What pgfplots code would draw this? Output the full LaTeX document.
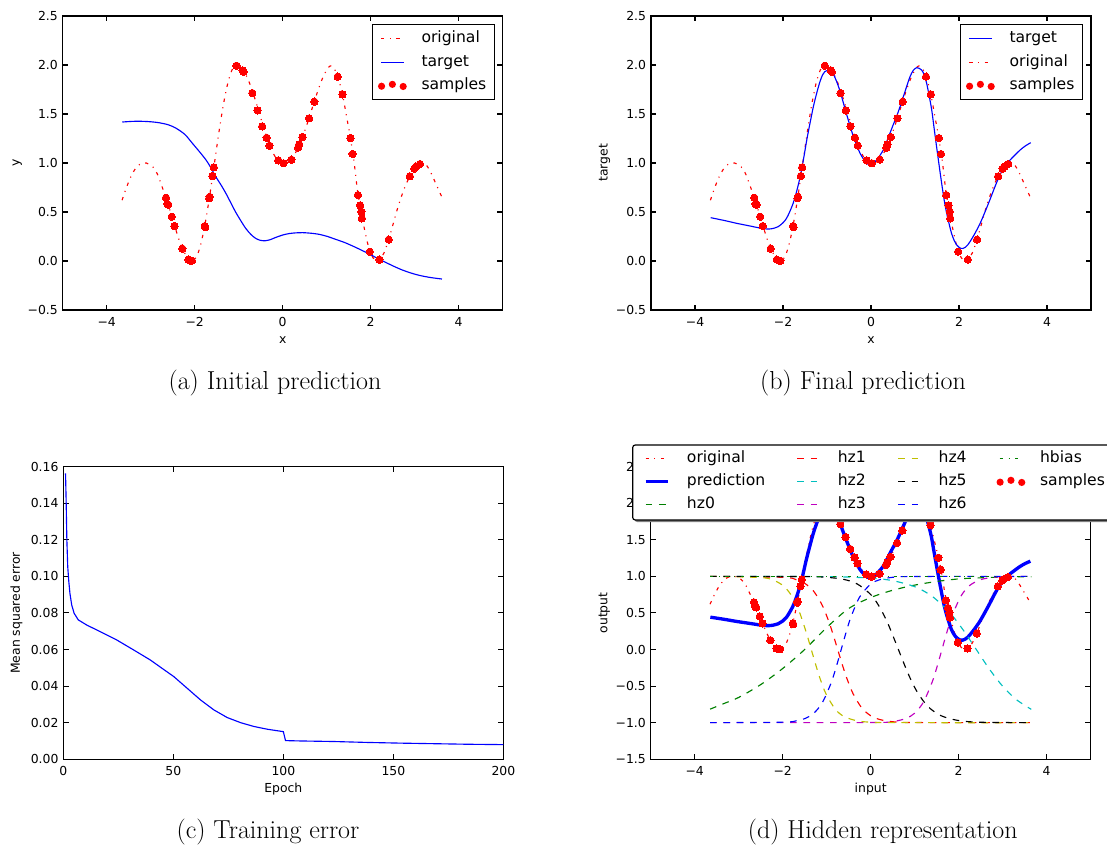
\documentclass[border=0pt]{standalone}
\usepackage{fontspec}
\usepackage{pgfplots}
\pgfplotsset{compat=1.18}
\newfontfamily\dejavu{DejaVu Sans}
\definecolor{mplg}{rgb}{0,0.5,0}
\definecolor{mplc}{rgb}{0,0.75,0.75}
\definecolor{mplm}{rgb}{0.75,0,0.75}
\definecolor{mply}{rgb}{0.75,0.75,0}

\pgfplotstableread{
x y
-2.652 0.646
-2.622 0.582
-2.600 0.575
-2.520 0.452
-2.460 0.357
-2.280 0.126
-2.140 0.014
-2.090 0.003
-2.060 0.003
-1.770 0.357
-1.760 0.345
-1.670 0.640
-1.660 0.655
-1.595 0.867
-1.565 0.956
-1.050 1.993
-0.910 1.945
-0.890 1.930
-0.690 1.714
-0.570 1.537
-0.465 1.374
-0.365 1.258
-0.300 1.177
-0.100 1.027
0.020 0.997
0.200 1.034
0.350 1.156
0.375 1.190
0.450 1.265
0.600 1.456
0.720 1.626
1.250 1.881
1.360 1.700
1.540 1.255
1.590 1.092
1.710 0.673
1.760 0.568
1.790 0.503
1.800 0.435
1.980 0.095
2.200 0.014
2.410 0.218
2.890 0.864
2.990 0.942
3.030 0.963
3.120 0.990
}\samples

\pgfplotstableread{
x y
-3.65 0.62
-3.55 0.75
-3.45 0.86
-3.35 0.94
-3.25 0.985
-3.10 1.0
-2.95 0.96
-2.85 0.89
-2.75 0.77
-2.65 0.64
-2.55 0.50
-2.45 0.35
-2.35 0.21
-2.25 0.10
-2.15 0.03
-2.05 0.0
-1.95 0.049
-1.85 0.191
-1.75 0.412
-1.65 0.691
-1.55 1.0
-1.45 1.309
-1.35 1.588
-1.25 1.809
-1.15 1.951
-1.05 2.0
-0.95 1.978
-0.85 1.913
-0.75 1.812
-0.65 1.683
-0.55 1.537
-0.45 1.389
-0.35 1.25
-0.25 1.134
-0.15 1.049
-0.05 1.006
0.05 1.0
0.15 1.015
0.25 1.07
0.35 1.156
0.45 1.265
0.55 1.39
0.65 1.53
0.75 1.67
0.85 1.80
0.95 1.91
1.05 1.98
1.12 1.99
1.20 1.94
1.28 1.84
1.36 1.70
1.45 1.48
1.54 1.255
1.62 1.02
1.70 0.72
1.80 0.46
1.90 0.24
1.98 0.10
2.05 0.035
2.12 0.005
2.20 0.015
2.30 0.08
2.41 0.218
2.50 0.36
2.60 0.52
2.70 0.66
2.80 0.78
2.90 0.87
3.00 0.945
3.10 0.985
3.18 1.0
3.28 0.97
3.38 0.89
3.48 0.79
3.56 0.71
3.65 0.62
}\original

\pgfplotstableread{
x y
-3.645 1.418
-3.40 1.425
-3.17 1.425
-2.98 1.42
-2.80 1.41
-2.60 1.39
-2.42 1.354
-2.22 1.29
-2.05 1.20
-1.90 1.12
-1.74 1.03
-1.63 0.95
-1.52 0.86
-1.40 0.775
-1.29 0.69
-1.18 0.595
-1.07 0.50
-0.95 0.41
-0.84 0.333
-0.72 0.27
-0.61 0.23
-0.50 0.21
-0.39 0.207
-0.28 0.218
-0.16 0.24
0.00 0.265
0.15 0.28
0.30 0.287
0.46 0.289
0.65 0.283
0.83 0.272
1.02 0.25
1.21 0.22
1.40 0.19
1.59 0.153
1.78 0.113
1.97 0.071
2.15 0.028
2.34 -0.014
2.53 -0.055
2.72 -0.092
2.91 -0.122
3.10 -0.146
3.35 -0.168
3.62 -0.184
}\initial

\pgfplotstableread{
x y
-3.644 0.442
-3.30 0.41
-3.05 0.384
-2.75 0.357
-2.45 0.33
-2.30 0.327
-2.20 0.335
-2.11 0.35
-2.00 0.39
-1.92 0.435
-1.85 0.50
-1.77 0.588
-1.69 0.71
-1.61 0.86
-1.53 1.05
-1.46 1.235
-1.38 1.42
-1.31 1.575
-1.23 1.72
-1.16 1.83
-1.10 1.90
-1.05 1.932
-0.955 1.949
-0.90 1.935
-0.856 1.908
-0.78 1.83
-0.70 1.728
-0.62 1.60
-0.55 1.49
-0.47 1.37
-0.40 1.269
-0.32 1.175
-0.25 1.10
-0.17 1.04
-0.098 0.997
-0.02 0.98
0.05 0.995
0.13 1.031
0.20 1.075
0.28 1.133
0.35 1.21
0.43 1.303
0.50 1.385
0.58 1.473
0.66 1.575
0.735 1.677
0.81 1.78
0.886 1.88
0.96 1.945
1.04 1.973
1.10 1.965
1.15 1.949
1.21 1.90
1.265 1.813
1.32 1.69
1.38 1.541
1.43 1.37
1.49 1.167
1.55 0.97
1.606 0.793
1.66 0.63
1.72 0.486
1.78 0.37
1.83 0.282
1.89 0.21
1.95 0.163
2.00 0.14
2.04 0.129
2.09 0.128
2.14 0.139
2.20 0.165
2.25 0.197
2.36 0.28
2.48 0.384
2.59 0.50
2.70 0.622
2.81 0.75
2.93 0.878
3.05 0.97
3.16 1.03
3.28 1.085
3.39 1.133
3.51 1.175
3.63 1.207
}\final

\pgfplotstableread{
x y
1 0.1563
1.3 0.14
1.6 0.12
2 0.1053
2.5 0.097
3 0.0907
3.8 0.0844
4.9 0.0798
6.8 0.0762
10.6 0.0734
16.7 0.0698
24.3 0.0652
31.9 0.0598
39.5 0.0543
44.9 0.0497
50.2 0.0452
56.3 0.0388
62.4 0.0324
68.4 0.027
74.5 0.0228
80.6 0.020
86.7 0.0179
92.8 0.0164
100 0.0151
101 0.0102
108 0.0100
123 0.0097
138 0.0092
154 0.0088
169 0.0085
184 0.0082
200 0.0080
}\mse

\pgfplotstableread{
x y
-3.65 -0.815
-3.3 -0.73
-3.0 -0.655
-2.5 -0.48
-2.0 -0.26
-1.5 0.0
-1.0 0.30
-0.5 0.56
0.0 0.71
0.5 0.81
1.0 0.88
1.5 0.93
2.0 0.965
2.5 0.98
3.0 0.99
3.65 0.995
}\hzzero

\pgfplotstableread{
x y
-3.65 1.0
-2.0 0.987
-1.7 0.956
-1.5 0.905
-1.3 0.800
-1.1 0.604
-0.95 0.380
-0.85 0.197
-0.75 0.0
-0.65 -0.197
-0.55 -0.380
-0.4 -0.604
-0.2 -0.800
0.0 -0.905
0.2 -0.956
0.5 -0.987
1.0 -0.998
3.65 -1.0
}\hzone

\pgfplotstableread{
x y
-3.65 1.0
-1.0 0.996
0.0 0.976
0.5 0.941
1.0 0.859
1.4 0.726
1.8 0.502
2.1 0.269
2.4 0.0
2.7 -0.269
3.0 -0.502
3.3 -0.68
3.65 -0.818
}\hztwo

\pgfplotstableread{
x y
-3.65 -1.0
0.0 -0.998
0.5 -0.984
0.8 -0.943
1.0 -0.870
1.2 -0.718
1.4 -0.441
1.51 -0.232
1.62 0.0
1.73 0.232
1.85 0.458
2.05 0.728
2.25 0.875
2.5 0.955
2.8 0.988
3.2 0.998
3.65 1.0
}\hzthree

\pgfplotstableread{
x y
-3.65 1.0
-2.5 0.984
-2.2 0.945
-2.0 0.878
-1.9 0.819
-1.8 0.738
-1.7 0.626
-1.6 0.482
-1.45 0.207
-1.35 0.0
-1.2 -0.305
-1.1 -0.482
-1.0 -0.626
-0.8 -0.819
-0.6 -0.918
-0.3 -0.976
0.0 -0.993
0.5 -0.9995
3.65 -1.0
}\hzfour

\pgfplotstableread{
x y
-3.65 1.0
-1.5 0.997
-1.0 0.987
-0.6 0.957
-0.3 0.894
0.0 0.752
0.2 0.583
0.4 0.343
0.63 0.0
0.85 -0.328
1.05 -0.572
1.3 -0.778
1.6 -0.905
2.0 -0.971
2.5 -0.994
3.65 -1.0
}\hzfive

\pgfplotstableread{
x y
-3.65 -1.0
-2.0 -0.993
-1.7 -0.976
-1.5 -0.945
-1.3 -0.875
-1.1 -0.728
-0.9 -0.458
-0.78 -0.232
-0.67 0.0
-0.56 0.232
-0.45 0.441
-0.25 0.718
0.0 0.894
0.2 0.953
0.5 0.987
1.0 0.998
3.65 1.0
}\hzsix

\pgfplotstableread{
x y
-3.65 1.0
3.65 1.0
}\hbias

\pgfplotsset{
  mplaxis/.style={
    scale only axis, width=330pt, height=220pt,
    axis line style={line width=0.8pt, black},
    every tick/.style={line width=0.8pt, black},
    major tick length=4pt,
    tick align=inside,
    tick label style={font=\dejavu\fontsize{9.3}{11}\selectfont, inner sep=0pt},
    xticklabel style={anchor=base, yshift=-12.4pt},
    yticklabel style={anchor=east, xshift=-3.5pt},
    label style={font=\dejavu\fontsize{9.3}{11}\selectfont, inner sep=0pt},
    xlabel style={at={(axis description cs:0.5,-0.1134)}, anchor=base},
    ylabel style={at={(axis description cs:-0.0985,0.5)}, anchor=base},
    legend cell align=left,
    legend style={draw=black, line width=0.9pt, fill=white,
      font=\dejavu\fontsize{11.7}{14}\selectfont,
      inner xsep=6pt, inner ysep=5pt, row sep=6.5pt,
      nodes={inner sep=0pt, text height=8.5pt, text depth=2.5pt},
      /tikz/column 1/.style={column sep=12.75pt}},
  },
  dlegcol/.style={mplaxis, at={(488pt,64.3pt)}, height=219.5pt, hide axis,
    xmin=-5, xmax=5, ymin=-1.5, ymax=2.5,
    legend style={at={(axis description cs:#1,1.05474)}, anchor=north west,
      draw=none, fill=none, inner xsep=0pt, inner ysep=0pt, row sep=6.25pt}},
  xpred/.style={xmin=-5, xmax=5, ymin=-0.5, ymax=2.5,
    xtick={-4,-2,0,2,4}, xticklabels={−4,−2,0,2,4},
    ytick={-0.5,0,0.5,1,1.5,2,2.5},
    yticklabels={−0.5,0.0,0.5,1.0,1.5,2.0,2.5}},
  origst/.style={red, line width=0.85pt, dash pattern=on 2.5pt off 4.1pt on 0.8pt off 4.1pt, smooth, tension=0.5},
  thinblue/.style={blue, line width=0.85pt, smooth, tension=0.5},
  hzst/.style={#1, line width=0.85pt, dash pattern=on 5pt off 5pt, smooth, tension=0.5},
  legl/.style n args={2}{legend image code/.code={%
      \draw[draw=#1, line width=0.9pt, #2] (0pt,0pt) -- (17.07pt,0pt);}},
  sampst/.style={only marks, mark=*, mark size=2.75pt, red,
    mark options={draw=red, fill=red, line width=0pt},
    legend image code/.code={
      \path[draw=none] (0pt,0pt) -- (17.07pt,0pt);
      \fill[red, draw=none, overlay] (0.3pt,-0.5pt) circle (2.7pt);
      \fill[red, draw=none, overlay] (8.4pt,0.9pt) circle (2.7pt);
      \fill[red, draw=none, overlay] (16.5pt,-0.7pt) circle (2.7pt);}},
}

\begin{document}
\begin{tikzpicture}
\useasboundingbox (0,0) rectangle (830.25pt,633.75pt);

% (a)
\begin{axis}[mplaxis, xpred, at={(47pt,401.25pt)}, height=220.5pt,
  xlabel={x}, ylabel={y},
  legend style={at={(axis description cs:0.9825,0.9718)}, anchor=north east}]
\addlegendimage{legl={red}{dash pattern=on 2.5pt off 4.1pt on 0.8pt off 4.1pt}}\addlegendentry{original}
\addlegendimage{legl={blue}{}}\addlegendentry{target}
\addlegendimage{sampst}\addlegendentry{samples}
\addplot[sampst, forget plot] table {\samples};
\addplot[origst, forget plot] table {\original};
\addplot[thinblue, forget plot] table {\initial};
\end{axis}

% (b)
\begin{axis}[mplaxis, xpred, at={(488.25pt,401.25pt)}, height=220.5pt,
  xlabel={x}, ylabel={target},
  legend style={at={(axis description cs:0.9818,0.9718)}, anchor=north east}]
\addlegendimage{legl={blue}{}}\addlegendentry{target}
\addlegendimage{legl={red}{dash pattern=on 2.5pt off 4.1pt on 0.8pt off 4.1pt}}\addlegendentry{original}
\addlegendimage{sampst}\addlegendentry{samples}
\addplot[sampst, forget plot] table {\samples};
\addplot[origst, forget plot] table {\original};
\addplot[thinblue, forget plot] table {\final};
\end{axis}

% (c)
\begin{axis}[mplaxis, at={(47.5pt,64.3pt)}, height=219.5pt,
  xmin=0, xmax=200, ymin=0, ymax=0.16,
  xtick={0,50,100,150,200}, xticklabels={0,50,100,150,200},
  ytick={0,0.02,0.04,0.06,0.08,0.1,0.12,0.14,0.16},
  yticklabels={0.00,0.02,0.04,0.06,0.08,0.10,0.12,0.14,0.16},
  xlabel={Epoch}, ylabel={Mean squared error}]
\addplot[blue, line width=0.85pt] table {\mse};
\end{axis}

% (d)
\begin{axis}[mplaxis, at={(488pt,64.3pt)}, height=219.5pt,
  xmin=-5, xmax=5, ymin=-1.5, ymax=2.5,
  xtick={-4,-2,0,2,4}, xticklabels={−4,−2,0,2,4},
  ytick={-1.5,-1,-0.5,0,0.5,1,1.5,2,2.5},
  yticklabels={−1.5,−1.0,−0.5,0.0,0.5,1.0,1.5,2.0,2.5},
  xlabel={input}, ylabel={output}]
\addplot[sampst, forget plot] table {\samples};
\addplot[origst, forget plot] table {\original};
\addplot[blue, line width=2.5pt, smooth, tension=0.5, forget plot] table {\final};
\addplot[hzst=mplg, forget plot] table {\hzzero};
\addplot[hzst=red, forget plot] table {\hzone};
\addplot[hzst=mplc, forget plot] table {\hztwo};
\addplot[hzst=mplm, forget plot] table {\hzthree};
\addplot[hzst=mply, forget plot] table {\hzfour};
\addplot[hzst=black, forget plot] table {\hzfive};
\addplot[hzst=blue, forget plot] table {\hzsix};
\addplot[mplg, line width=0.85pt, dash pattern=on 2.5pt off 4.1pt on 0.8pt off 4.1pt, forget plot] table {\hbias};
\end{axis}
% legend frame of (d), with its shadow
\fill[black!50, rounded corners=2pt] (476pt,242.2pt) rectangle (840pt,298.5pt);
\draw[line width=0.9pt, fill=white, rounded corners=2pt] (474.5pt,243.75pt) rectangle (836pt,300pt);

% (d) legend, one column at a time
\begin{axis}[dlegcol=-0.01684]
\addlegendimage{legl={red}{dash pattern=on 2.5pt off 4.1pt on 0.8pt off 4.1pt}}\addlegendentry{original}
\addlegendimage{legl={blue}{line width=2.5pt}}\addlegendentry{prediction}
\addlegendimage{legl={mplg}{dash pattern=on 5pt off 5pt}}\addlegendentry{hz0}
\end{axis}
\begin{axis}[dlegcol=0.33075]
\addlegendimage{legl={red}{dash pattern=on 5pt off 5pt}}\addlegendentry{hz1}
\addlegendimage{legl={mplc}{dash pattern=on 5pt off 5pt}}\addlegendentry{hz2}
\addlegendimage{legl={mplm}{dash pattern=on 5pt off 5pt}}\addlegendentry{hz3}
\end{axis}
\begin{axis}[dlegcol=0.55998]
\addlegendimage{legl={mply}{dash pattern=on 5pt off 5pt}}\addlegendentry{hz4}
\addlegendimage{legl={black}{dash pattern=on 5pt off 5pt}}\addlegendentry{hz5}
\addlegendimage{legl={blue}{dash pattern=on 5pt off 5pt}}\addlegendentry{hz6}
\end{axis}
\begin{axis}[dlegcol=0.79058]
\addlegendimage{legl={mplg}{dash pattern=on 2.5pt off 4.1pt on 0.8pt off 4.1pt}}\addlegendentry{hbias}
\addlegendimage{sampst}\addlegendentry{samples}
\end{axis}

% captions
\node[anchor=base, font=\fontsize{19.5}{23}\selectfont] at (206.25pt,341.25pt) {(a) Initial prediction};
\node[anchor=base, font=\fontsize{19.5}{23}\selectfont] at (647.25pt,341.25pt) {(b) Final prediction};
\node[anchor=base, font=\fontsize{19.5}{23}\selectfont] at (201pt,4.5pt) {(c) Training error};
\node[anchor=base, font=\fontsize{19.5}{23}\selectfont] at (662pt,4.5pt) {(d) Hidden representation};
\end{tikzpicture}
\end{document}
